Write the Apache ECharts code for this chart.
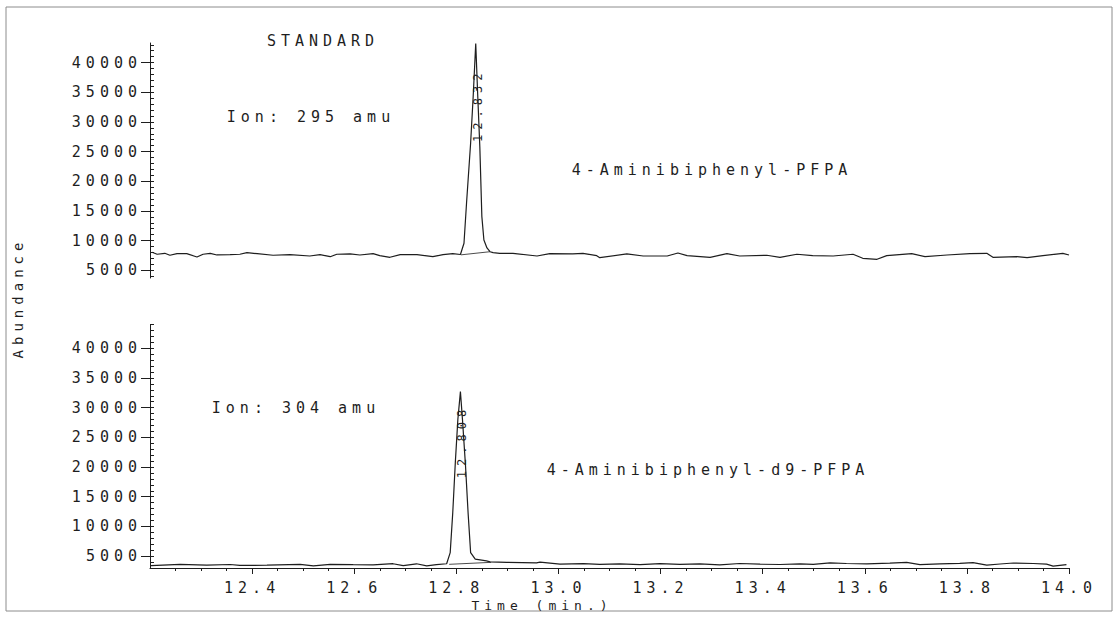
<!DOCTYPE html>
<html>
<head>
<meta charset="utf-8">
<script src="https://cdn.jsdelivr.net/npm/echarts@6/dist/echarts.min.js"></script>
<style>
  html, body { margin: 0; padding: 0; background: #fff; }
  #chart { width: 1119px; height: 618px; }
  /* plotter lettering is widely spaced */
  #chart text { letter-spacing: 5px; }
</style>
</head>
<body>
<div id="chart"></div>
<script>
// ion 295 amu trace, [time (min), abundance]
const ion295 = [
  [12.204, 8030], [12.214, 7700], [12.229, 7860], [12.239, 7530], [12.253, 7800], [12.272, 7800],
  [12.292, 7240], [12.304, 7700], [12.318, 7860], [12.331, 7580], [12.357, 7630], [12.376, 7700],
  [12.390, 7970], [12.410, 7800], [12.441, 7530], [12.474, 7630], [12.513, 7410], [12.533, 7630],
  [12.553, 7290], [12.566, 7700], [12.592, 7750], [12.611, 7580], [12.637, 7800], [12.650, 7460],
  [12.670, 7190], [12.690, 7630], [12.723, 7630], [12.754, 7290], [12.774, 7630], [12.793, 7800],
  [12.808, 7660], [12.815, 9550], [12.820, 16350], [12.828, 26460], [12.833, 34270], [12.838, 43200],
  [12.842, 34270], [12.846, 25840], [12.850, 14040], [12.854, 10110], [12.860, 8760], [12.866, 8130],
  [12.872, 7970], [12.885, 7860], [12.911, 7860], [12.958, 7410], [12.983, 7800], [13.028, 7750],
  [13.048, 7860], [13.075, 7460], [13.081, 7120], [13.134, 7750], [13.166, 7410], [13.213, 7410],
  [13.234, 7920], [13.252, 7460], [13.297, 7190], [13.330, 7800], [13.355, 7410], [13.408, 7530],
  [13.434, 7190], [13.467, 7700], [13.498, 7460], [13.538, 7410], [13.577, 7700], [13.596, 7020],
  [13.624, 6850], [13.643, 7460], [13.692, 7800], [13.718, 7290], [13.761, 7580], [13.806, 7800],
  [13.839, 7860], [13.851, 7190], [13.898, 7290], [13.918, 7120], [13.949, 7460], [13.988, 7860],
  [14.000, 7580]
];
// ion 304 amu trace
const ion304 = [
  [12.202, 3400], [12.259, 3610], [12.311, 3470], [12.357, 3590], [12.376, 3440], [12.429, 3470],
  [12.494, 3620], [12.520, 3350], [12.553, 3610], [12.598, 3560], [12.637, 3540], [12.676, 3720],
  [12.696, 3400], [12.722, 3710], [12.742, 3370], [12.761, 3560], [12.781, 3720], [12.788, 5590],
  [12.793, 12330], [12.798, 20740], [12.803, 28030], [12.808, 32700], [12.812, 28030], [12.818, 20170],
  [12.823, 12330], [12.828, 5590], [12.837, 4480], [12.859, 4210], [12.866, 4040], [12.899, 3940],
  [12.957, 3860], [12.964, 3980], [13.003, 3660], [13.049, 3740], [13.081, 3620], [13.120, 3700],
  [13.160, 3560], [13.199, 3750], [13.238, 3620], [13.277, 3680], [13.316, 3540], [13.355, 3760],
  [13.395, 3640], [13.434, 3590], [13.473, 3710], [13.499, 3620], [13.532, 3860], [13.564, 3760],
  [13.604, 3690], [13.649, 3810], [13.682, 3940], [13.708, 3570], [13.747, 3710], [13.786, 3790],
  [13.812, 3910], [13.839, 3490], [13.865, 3670], [13.891, 3840], [13.930, 3760], [13.956, 3640],
  [13.969, 3320], [13.995, 3570]
];
// integration baselines drawn under the peaks
const base295 = [[12.809, 7600], [12.866, 8130]];
const base304 = [[12.786, 3620], [12.868, 3950]];
// retention time labels: [label, time, abundance where the text sits]
const peak295 = ['12.832', 12.842, 32800];
const peak304 = ['12.808', 12.812, 24300];

const xLabels = [12.4, 12.6, 12.8, 13.0, 13.2, 13.4, 13.6, 13.8, 14.0];
const yLabels = [5000, 10000, 15000, 20000, 25000, 30000, 35000, 40000];

const xMinor = [];
for (let i = 1; i <= 36; i++) xMinor.push(+(12.2 + i * 0.05).toFixed(2));
const yMinorTop = [], yMinorBot = [];
for (let v = 4000; v <= 43000; v += 1000) yMinorTop.push(v);
for (let v = 4000; v <= 44000; v += 1000) yMinorBot.push(v);

const INK = '#1e1e1e';
const FONT = '"DejaVu Sans Mono", "Liberation Mono", monospace';
const axLine = { show: true, onZero: false, lineStyle: { color: INK, width: 1 } };

function yMain(grid, min, max) {
  return {
    type: 'value', gridIndex: grid, position: 'left', min: min, max: max,
    axisLine: axLine, splitLine: { show: false },
    axisTick: { show: true, customValues: yLabels, length: 9, lineStyle: { color: INK } },
    axisLabel: { customValues: yLabels, margin: 8, color: INK, fontFamily: FONT, fontSize: 15,
                 formatter: v => String(v) }
  };
}
function yMinor(grid, min, max, ticks) {
  return {
    type: 'value', gridIndex: grid, position: 'left', min: min, max: max,
    axisLine: { show: false }, splitLine: { show: false }, axisLabel: { show: false },
    axisTick: { show: true, inside: true, customValues: ticks, length: 4, lineStyle: { color: INK } }
  };
}
function trace(data, xi, yi, w) {
  return {
    type: 'line', xAxisIndex: xi, yAxisIndex: yi, data: data, showSymbol: false,
    symbol: 'none', clip: false, itemStyle: { color: INK }, lineStyle: { color: INK, width: w }
  };
}
function rtMark(p) {
  return {
    symbol: 'rect', symbolSize: 0, silent: true,
    itemStyle: { color: INK },
    data: [{ coord: [p[1], p[2]] }],
    label: { show: true, position: 'inside', formatter: p[0], rotate: 90,
             color: INK, textBorderWidth: 0, fontFamily: FONT, fontSize: 12 }
  };
}

const chart = echarts.init(document.getElementById('chart'), null, { renderer: 'svg' });
chart.setOption({
  animation: false,
  backgroundColor: '#fff',
  grid: [
    { left: 150, right: 50, top: 43, height: 235 },
    { left: 150, right: 50, top: 324.5, height: 243.5 }
  ],
  xAxis: [
    { type: 'value', gridIndex: 0, min: 12.2, max: 14.0, show: false },
    {
      type: 'value', gridIndex: 1, position: 'bottom', min: 12.2, max: 14.0,
      axisLine: axLine, splitLine: { show: false },
      axisTick: { show: true, customValues: xLabels, length: 6, lineStyle: { color: INK } },
      axisLabel: { customValues: xLabels, margin: 12, color: INK, fontFamily: FONT, fontSize: 15,
                   formatter: v => v.toFixed(1) }
    },
    {
      type: 'value', gridIndex: 1, position: 'bottom', min: 12.2, max: 14.0,
      axisLine: { show: false }, splitLine: { show: false }, axisLabel: { show: false },
      axisTick: { show: true, customValues: xMinor, length: 3, lineStyle: { color: INK } }
    }
  ],
  yAxis: [
    yMain(0, 3700, 43300), yMinor(0, 3700, 43300, yMinorTop),
    yMain(1, 3000, 44000), yMinor(1, 3000, 44000, yMinorBot)
  ],
  series: [
    Object.assign(trace(ion295, 0, 0, 1.2), { markPoint: rtMark(peak295) }),
    trace(base295, 0, 0, 0.8),
    Object.assign(trace(ion304, 1, 2, 1.2), { markPoint: rtMark(peak304) }),
    trace(base304, 1, 2, 0.8)
  ],
  graphic: [
    { type: 'rect', shape: { x: 6, y: 7, width: 1106, height: 604 },
      style: { fill: 'none', stroke: '#8c8c8c', lineWidth: 1 }, silent: true },
    { type: 'text', x: 323, y: 41, style: { text: 'STANDARD', font: '15px ' + FONT, fill: INK, textAlign: 'center', textVerticalAlign: 'middle' } },
    { type: 'text', x: 311, y: 117, style: { text: 'Ion: 295 amu', font: '15px ' + FONT, fill: INK, textAlign: 'center', textVerticalAlign: 'middle' } },
    { type: 'text', x: 712, y: 170, style: { text: '4-Aminibiphenyl-PFPA', font: '15px ' + FONT, fill: INK, textAlign: 'center', textVerticalAlign: 'middle' } },
    { type: 'text', x: 296, y: 408, style: { text: 'Ion: 304 amu', font: '15px ' + FONT, fill: INK, textAlign: 'center', textVerticalAlign: 'middle' } },
    { type: 'text', x: 708, y: 470, style: { text: '4-Aminibiphenyl-d9-PFPA', font: '15px ' + FONT, fill: INK, textAlign: 'center', textVerticalAlign: 'middle' } },
    { type: 'text', x: 542, y: 605, style: { text: 'Time (min.)', font: '13px ' + FONT, fill: INK, textAlign: 'center', textVerticalAlign: 'middle' } },
    { type: 'text', x: 18, y: 298, rotation: Math.PI / 2, style: { text: 'Abundance', font: '14px ' + FONT, fill: INK, textAlign: 'center', textVerticalAlign: 'middle' } }
  ]
});
</script>
</body>
</html>
